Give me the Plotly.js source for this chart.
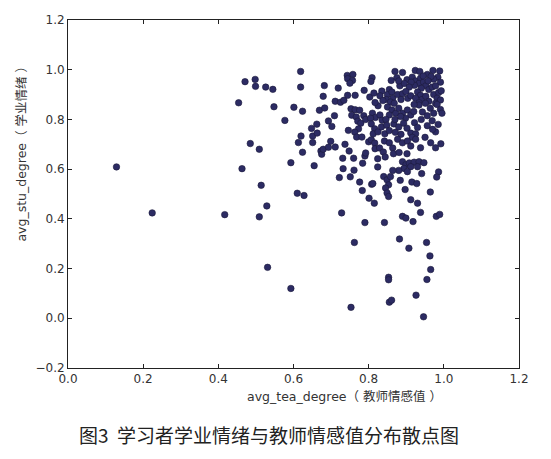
<!DOCTYPE html>
<html>
<head>
<meta charset="utf-8">
<script src="https://cdn.plot.ly/plotly-3.0.1.min.js"></script>
<style>html,body{margin:0;padding:0;background:#fff;}#chart{width:551px;height:459px;}</style>
</head>
<body>
<div id="chart"></div>
<script>
// Sparse points (left side)
const sparseX = [0.129,0.224,0.417,0.454,0.471,0.498,0.499,0.526,0.545,0.548,0.485,0.509,0.463,0.514,0.529,0.509,0.531,0.601,0.577,0.593,0.610,0.628,0.593];
const sparseY = [0.609,0.424,0.417,0.867,0.952,0.961,0.933,0.930,0.921,0.851,0.703,0.680,0.602,0.535,0.452,0.408,0.205,0.849,0.796,0.626,0.503,0.494,0.120];

// Middle band (x ~0.6-0.8)
const midX = [0.619,0.619,0.624,0.648,0.662,0.620,0.651,0.663,0.613,0.651,
  0.624,0.655,0.669,0.683,0.679,0.682,0.719,0.693,0.702,0.709,
  0.711,0.725,0.734,0.673,0.675,0.679,0.693,0.699,0.711,0.737,
  0.731,0.722,0.732,0.751,0.761,0.760,0.748,0.776,0.783,0.801,
  0.815,0.808,0.784,0.790,0.792,0.728,0.790,0.842,0.743,0.758,
  0.744,0.757,0.750,0.809,0.806,0.744,0.764,0.788,0.803,0.814,
  0.835,0.753,0.764,0.776,0.755,0.767,0.771,0.779,0.746,0.773,
  0.763,0.768,0.782,0.800,0.787,0.792];
const midY = [0.993,0.930,0.833,0.764,0.781,0.733,0.733,0.745,0.707,0.707,
  0.668,0.614,0.837,0.846,0.893,0.936,0.926,0.794,0.772,0.815,
  0.873,0.869,0.877,0.673,0.660,0.680,0.688,0.712,0.689,0.700,
  0.644,0.566,0.602,0.569,0.596,0.644,0.673,0.548,0.514,0.483,
  0.463,0.539,0.624,0.653,0.665,0.424,0.385,0.385,0.977,0.981,
  0.964,0.957,0.946,0.968,0.953,0.897,0.897,0.917,0.890,0.906,
  0.914,0.843,0.839,0.837,0.817,0.810,0.793,0.785,0.756,0.762,
  0.749,0.729,0.729,0.710,0.815,0.800];

// Dense upper-right cluster
const denseX = [0.870,0.890,0.860,0.875,0.902,0.924,0.936,0.956,0.971,0.989,
  0.984,0.991,0.973,0.966,0.916,0.925,0.938,0.934,0.922,0.913,
  0.946,0.952,0.940,0.960,0.969,0.978,0.883,0.895,0.908,0.855,
  0.850,0.862,0.864,0.847,0.858,0.877,0.890,0.899,0.904,0.886,
  0.912,0.930,0.938,0.925,0.942,0.934,0.952,0.960,0.973,0.986,
  0.982,0.991,0.978,0.830,0.838,0.825,0.817,0.810,0.818,0.805,
  0.830,0.836,0.850,0.862,0.855,0.872,0.846,0.880,0.890,0.903,
  0.912,0.898,0.920,0.934,0.951,0.964,0.973,0.943,0.956,0.982,
  0.991,0.995,0.807,0.816,0.812,0.825,0.834,0.848,0.843,0.855,
  0.867,0.880,0.871,0.893,0.902,0.912,0.886,0.922,0.930,0.925,
  0.916,0.956,0.969,0.978,0.970,0.940,0.985,0.868,0.921,0.945,
  0.880,0.958,0.993,0.870,0.885];
const denseY = [0.993,0.989,0.957,0.968,0.960,0.997,0.993,0.981,0.997,0.995,
  0.970,0.950,0.962,0.973,0.970,0.955,0.966,0.945,0.937,0.950,
  0.950,0.935,0.925,0.920,0.930,0.935,0.935,0.945,0.930,0.920,
  0.900,0.910,0.885,0.880,0.870,0.900,0.903,0.912,0.885,0.880,
  0.895,0.910,0.897,0.885,0.880,0.867,0.893,0.873,0.900,0.908,
  0.885,0.878,0.865,0.895,0.876,0.855,0.868,0.825,0.808,0.805,
  0.818,0.797,0.850,0.838,0.818,0.825,0.800,0.845,0.825,0.838,
  0.818,0.805,0.832,0.858,0.865,0.845,0.825,0.830,0.815,0.860,
  0.840,0.825,0.782,0.762,0.742,0.750,0.770,0.777,0.742,0.755,
  0.782,0.770,0.748,0.785,0.765,0.745,0.740,0.787,0.768,0.742,
  0.728,0.775,0.795,0.750,0.760,0.800,0.780,0.865,0.860,0.975,
  0.955,0.955,0.915,0.800,0.812];

// Right side, middle values
const rightX = [0.807,0.816,0.817,0.829,0.842,0.855,0.864,0.877,0.890,0.903,
  0.912,0.925,0.938,0.950,0.965,0.978,0.992,0.839,0.844,0.866,
  0.881,0.902,0.824,0.824,0.890,0.899,0.908,0.921,0.934,0.947,
  0.894,0.912,0.930,0.903,0.880,0.941,0.986,0.981,0.864,0.840,
  0.849,0.853,0.845,0.858,0.849,0.853,0.884,0.915,0.928,0.897,
  0.964,0.811,0.912,0.930,0.938,0.980,0.989,0.890,0.899,0.918];
const rightY = [0.718,0.705,0.682,0.685,0.713,0.706,0.685,0.720,0.706,0.713,
  0.693,0.720,0.686,0.728,0.706,0.686,0.702,0.669,0.649,0.662,
  0.667,0.662,0.642,0.609,0.630,0.618,0.625,0.628,0.630,0.626,
  0.603,0.610,0.610,0.590,0.595,0.582,0.589,0.568,0.595,0.570,
  0.557,0.537,0.524,0.570,0.504,0.490,0.555,0.548,0.542,0.518,
  0.508,0.542,0.477,0.463,0.426,0.410,0.418,0.410,0.403,0.389];

// Low values
const lowX = [0.762,0.882,0.907,0.954,0.963,0.965,0.955,0.853,0.853,0.926,0.855,0.861,0.753,0.946];
const lowY = [0.305,0.319,0.282,0.305,0.251,0.196,0.156,0.165,0.155,0.093,0.065,0.073,0.044,0.006];

const tickVals = [-0.2,0.0,0.2,0.4,0.6,0.8,1.0,1.2];
const xTitle = 'avg_tea_degree（ 教师情感值 ）';
const yTitle = 'avg_stu_degree（ 学业情绪 ）';
const caption = '图3  学习者学业情绪与教师情感值分布散点图';

const xs = [].concat(sparseX, midX, denseX, rightX, lowX);
const ys = [].concat(sparseY, midY, denseY, rightY, lowY);

const tickFont = {family: 'DejaVu Sans, sans-serif', size: 12, color: '#333'};
const axisCommon = {
  showgrid: false, zeroline: false, showline: true, linecolor: '#222', linewidth: 1,
  mirror: 'ticks', ticks: 'inside', ticklen: 4, tickwidth: 1, tickcolor: '#222',
  tickfont: tickFont, tickformat: '.1f', fixedrange: true
};

const trace = {
  x: xs, y: ys, type: 'scatter', mode: 'markers',
  marker: {size: 6.5, color: '#2c2b63', line: {color: '#1b1a3a', width: 0.6}},
  hoverinfo: 'skip'
};

const titleFont = {family: 'DejaVu Sans, Noto Sans CJK SC, sans-serif', size: 12.5, color: '#333'};

const layout = {
  width: 551, height: 459,
  margin: {l: 68, r: 32, t: 20, b: 91},
  paper_bgcolor: '#fff', plot_bgcolor: '#fff',
  showlegend: false,
  xaxis: Object.assign({}, axisCommon, {range: [0, 1.2], tickvals: tickVals.slice(1)}),
  yaxis: Object.assign({}, axisCommon, {range: [-0.2, 1.2], tickvals: tickVals}),
  annotations: [
    {text: xTitle, xref: 'paper', yref: 'paper', x: 0.612, y: -0.083, xanchor: 'center', yanchor: 'middle',
     showarrow: false, font: titleFont},
    {text: yTitle, xref: 'paper', yref: 'paper', x: -0.104, y: 0.625, xanchor: 'center', yanchor: 'middle',
     textangle: -90, showarrow: false, font: titleFont},
    {text: caption, xref: 'paper', yref: 'paper', x: 0.446, y: -0.192, xanchor: 'center', yanchor: 'middle',
     showarrow: false, font: {family: 'Noto Sans CJK SC, sans-serif', size: 19, color: '#222'}}
  ]
};

Plotly.newPlot('chart', [trace], layout, {staticPlot: true, displayModeBar: false});
</script>
</body>
</html>
